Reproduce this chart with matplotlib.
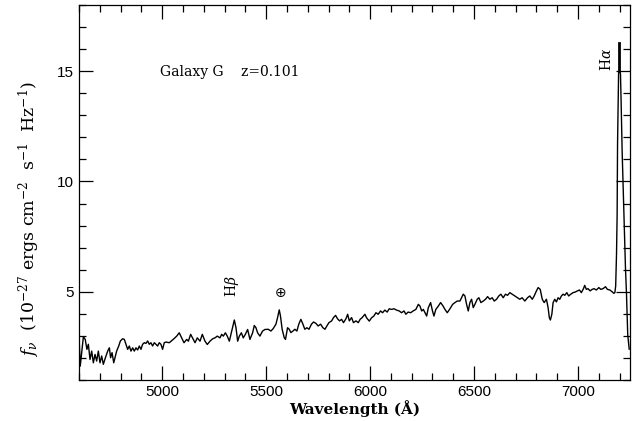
import matplotlib
matplotlib.use('Agg')
import matplotlib.pyplot as plt
from matplotlib.ticker import MultipleLocator

# spectrum (wavelength in Angstrom, flux in 1e-27 cgs)
wave = [4600, 4606, 4621, 4630, 4638, 4645, 4653, 4661, 4669, 4677, 4685, 4693,
        4701, 4709, 4717, 4727, 4738, 4746, 4752, 4759, 4767, 4773, 4781, 4791,
        4799, 4810, 4818, 4826, 4834, 4842, 4850, 4858, 4866, 4874, 4882, 4890,
        4898, 4906, 4914, 4922, 4930, 4938, 4946, 4954, 4962, 4970, 4978, 4986,
        4994, 5002, 5010, 5018, 5034,
        5053, 5070, 5082, 5094, 5105, 5118, 5126, 5137, 5146, 5158, 5169, 5182,
        5193, 5206, 5217, 5230, 5243, 5254, 5265, 5278, 5286, 5294, 5304, 5313,
        5323, 5336, 5347, 5355, 5363, 5371, 5381, 5390, 5400, 5411, 5422, 5435,
        5443, 5451, 5459, 5470, 5483, 5494,
        5510, 5523, 5534, 5547, 5555, 5563, 5569, 5577, 5587, 5593, 5603, 5611,
        5619, 5629, 5638, 5648, 5657, 5667, 5677, 5686, 5696, 5706, 5718, 5728,
        5739, 5750, 5762, 5773, 5783, 5792, 5802, 5815, 5824, 5834, 5843, 5853,
        5863, 5872, 5884, 5892, 5900, 5911, 5920, 5932, 5943, 5952, 5962,
        5975, 5983, 5996, 6007, 6018, 6028, 6039, 6050, 6060, 6071, 6082, 6092,
        6103, 6115, 6127, 6140, 6151, 6163, 6172, 6183, 6195, 6207, 6220, 6232,
        6240, 6248, 6256, 6264, 6272, 6280, 6291, 6300, 6307, 6316, 6328, 6339,
        6349, 6360, 6371, 6384, 6397, 6408, 6419,
        6432, 6440, 6448, 6456, 6464, 6472, 6480, 6488, 6496, 6504, 6515, 6523,
        6533, 6544, 6555, 6565, 6576, 6587, 6597, 6608, 6619, 6629, 6640, 6651,
        6661, 6672, 6683, 6696, 6709, 6720, 6731, 6744, 6757, 6768, 6780, 6789,
        6800, 6808, 6818, 6828, 6837,
        6848, 6856, 6862, 6867, 6874, 6880, 6888, 6896, 6904, 6912, 6920, 6928,
        6936, 6946, 6955, 6965, 6976, 6987, 6997, 7007, 7016, 7026, 7032, 7040,
        7048, 7058, 7068, 7077, 7088, 7100, 7109, 7120, 7132, 7141, 7153, 7164,
        7172, 7177, 7181,
        7185, 7188, 7190, 7193, 7195, 7198, 7204, 7207, 7212, 7218, 7223, 7228,
        7233, 7239, 7246]
flux = [3.00, 1.63, 2.96, 2.84, 2.39, 2.62, 1.93, 2.31, 1.78, 2.16, 1.86, 2.31,
        1.78, 2.09, 1.71, 2.01, 2.31, 2.46, 2.01, 2.24, 1.78, 2.01, 2.31, 2.54,
        2.77, 2.87, 2.84, 2.62, 2.39, 2.54, 2.31, 2.46, 2.31, 2.46, 2.36, 2.54,
        2.39, 2.62, 2.69, 2.66, 2.77, 2.62, 2.69, 2.54, 2.69, 2.62, 2.54, 2.69,
        2.62, 2.39, 2.69, 2.72, 2.69,
        2.84, 2.99, 3.14, 2.91, 2.69, 2.84, 2.76, 3.07, 2.91, 2.69, 2.91, 2.76,
        3.07, 2.76, 2.61, 2.76, 2.87, 2.91, 2.99, 2.91, 3.07, 2.99, 3.14, 2.99,
        2.76, 3.29, 3.72, 3.37, 2.76, 2.99, 3.14, 2.91, 3.07, 3.29, 2.84, 3.14,
        3.47, 3.37, 3.14, 2.99, 3.22, 3.29,
        3.30, 3.22, 3.33, 3.53, 3.83, 4.18, 3.90, 3.30, 2.92, 2.84, 3.37, 3.30,
        3.15, 3.22, 3.30, 3.22, 3.53, 3.75, 3.53, 3.30, 3.37, 3.30, 3.53, 3.63,
        3.57, 3.45, 3.53, 3.37, 3.30, 3.45, 3.60, 3.68, 3.83, 3.93, 3.78, 3.68,
        3.75, 3.60, 3.78, 3.98, 3.68, 3.83, 3.60, 3.68, 3.60, 3.75, 3.83,
        3.98, 3.82, 3.67, 3.82, 3.90, 4.05, 3.98, 4.13, 4.05, 4.17, 4.08, 4.23,
        4.20, 4.23, 4.17, 4.13, 4.05, 4.13, 3.98, 4.08, 4.05, 4.13, 4.20, 4.43,
        4.35, 4.13, 4.20, 4.05, 3.90, 4.28, 4.51, 4.13, 3.90, 4.20, 4.35, 4.51,
        4.38, 4.20, 4.05, 4.23, 4.43, 4.51, 4.58,
        4.58, 4.73, 4.89, 4.81, 4.43, 4.13, 4.51, 4.66, 4.28, 4.43, 4.66, 4.73,
        4.51, 4.58, 4.66, 4.78, 4.66, 4.73, 4.58, 4.66, 4.81, 4.89, 4.73, 4.89,
        4.84, 4.96, 4.89, 4.81, 4.73, 4.66, 4.73, 4.58, 4.73, 4.81, 4.66, 4.81,
        5.04, 5.19, 5.11, 4.66, 4.51,
        4.66, 4.28, 3.82, 3.72, 3.98, 4.51, 4.66, 4.54, 4.73, 4.66, 4.81, 4.89,
        4.84, 4.96, 4.81, 4.89, 4.96, 4.99, 5.04, 5.08, 4.96, 5.14, 5.29, 5.11,
        5.14, 5.04, 5.11, 5.14, 5.08, 5.19, 5.11, 5.14, 5.23, 5.11, 5.08, 5.00,
        4.93, 4.96, 5.26,
        6.7, 8.5, 11.7, 13.7, 14.9, 15.0, 14.9, 13.7, 11.4, 9.4, 7.6, 6.1,
        4.9, 3.05, 2.4]

ha_wave = 7198
ha_top = 16.3

plt.rcParams['font.family'] = ['Liberation Sans', 'DejaVu Sans']
plt.rcParams['mathtext.fontset'] = 'dejavuserif'

fig = plt.figure(figsize=(6.33, 4.21), dpi=100)
ax = fig.add_axes([0.1248, 0.0974, 0.8705, 0.8906])

ax.plot(wave, flux, color='black', lw=1.0)
ax.plot([ha_wave, ha_wave], [15.0, ha_top], color='black', lw=2.0)

ax.set_xlim(4600, 7250)
ax.set_ylim(1, 18)
ax.xaxis.set_major_locator(MultipleLocator(500))
ax.xaxis.set_minor_locator(MultipleLocator(100))
ax.yaxis.set_major_locator(MultipleLocator(5))
ax.yaxis.set_minor_locator(MultipleLocator(1))
ax.tick_params(which='both', direction='in', top=True, right=True, width=0.9,
               labelsize=11)
ax.tick_params(which='major', length=10)
ax.tick_params(which='minor', length=5)
for s in ax.spines.values():
    s.set_linewidth(0.9)

ax.set_xlabel('Wavelength (Å)', family='DejaVu Serif', fontsize=11,
              fontweight='bold', labelpad=1)
ax.set_ylabel(r'$f_\nu$  (10$^{-27}$ ergs cm$^{-2}$  s$^{-1}$  Hz$^{-1}$)',
              family='DejaVu Serif', fontsize=12.5)
ax.yaxis.set_label_coords(-0.067, 0.43)

ax.text(4990, 14.95, 'Galaxy G    z=0.101', family='DejaVu Serif',
        fontsize=10, va='center', ha='left')
ax.text(5336, 4.75, r'H$\beta$', family='DejaVu Serif', fontsize=10,
        rotation=90, ha='center', va='bottom')
ax.text(5571, 4.95, '⊕', family='DejaVu Sans', fontsize=10,
        ha='center', va='center')
ax.text(7137, 15.0, r'H$\alpha$', family='DejaVu Serif', fontsize=10,
        rotation=90, ha='center', va='bottom')

fig.savefig('out.png', dpi=100)
